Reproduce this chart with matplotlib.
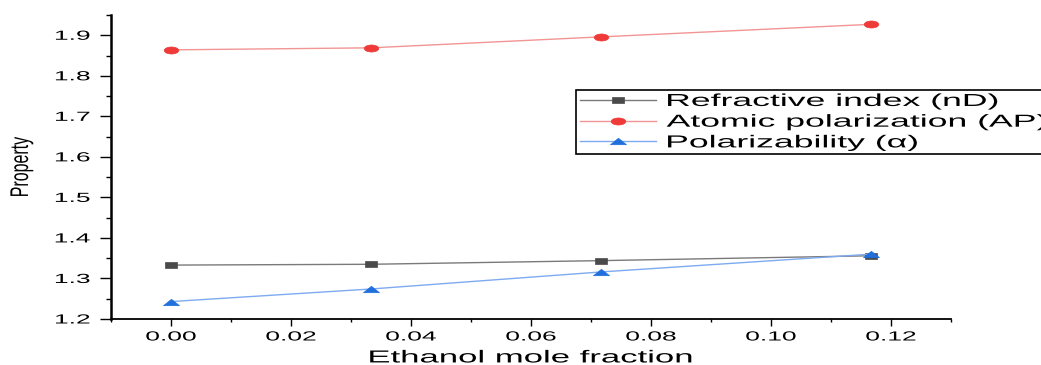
import numpy as np
import matplotlib
matplotlib.use("Agg")
import matplotlib.pyplot as plt
from matplotlib.path import Path
from matplotlib.markers import MarkerStyle
from matplotlib.patheffects import AbstractPathEffect
from matplotlib.transforms import Affine2D
from matplotlib.ticker import MultipleLocator

# ethanol mole fraction of each mixture
x_frac = [0.0, 0.0333, 0.0716, 0.1167]

refractive_index = [1.333, 1.335, 1.344, 1.356]
atomic_polarization = [1.864, 1.869, 1.896, 1.927]
polarizability = [1.243, 1.274, 1.316, 1.360]

series_names = ["Refractive index (nD)", "Atomic polarization (AP)", "Polarizability (\u03b1)"]

x_ticks = [0.00, 0.02, 0.04, 0.06, 0.08, 0.10, 0.12]
y_ticks = [1.2, 1.3, 1.4, 1.5, 1.6, 1.7, 1.8, 1.9]


class Widen(AbstractPathEffect):
    """Draw text glyphs stretched horizontally about one edge or the centre."""

    def __init__(self, sx=2.0, anchor="center"):
        super().__init__()
        self.sx = sx
        self.anchor = anchor

    def draw_path(self, renderer, gc, tpath, affine, rgbFace=None):
        bb = tpath.get_extents(affine)
        if self.anchor == "left":
            x0 = bb.x0
        elif self.anchor == "right":
            x0 = bb.x1
        else:
            x0 = 0.5 * (bb.x0 + bb.x1)
        stretch = Affine2D().translate(-x0, 0).scale(self.sx, 1).translate(x0, 0)
        renderer.draw_path(gc, tpath, affine + stretch, rgbFace)


def wide_marker(verts):
    verts = np.asarray(verts, dtype=float)
    codes = [Path.MOVETO] + [Path.LINETO] * (len(verts) - 1) + [Path.CLOSEPOLY]
    verts = np.vstack([verts, verts[:1]])
    return MarkerStyle(Path(verts, codes))


circ = Path.unit_circle()
ellipse = MarkerStyle(Path(circ.vertices * [1.0, 0.48], circ.codes))
rect = wide_marker([(-1, -0.5), (1, -0.5), (1, 0.5), (-1, 0.5)])
tri = wide_marker([(-1, -0.4), (1, -0.4), (0, 0.4)])

plt.rcParams["font.family"] = ["Liberation Sans", "DejaVu Sans"]

fig = plt.figure(figsize=(10.41, 3.65), dpi=100)
ax = fig.add_axes([111 / 1041, 1 - 319 / 365, 840 / 1041, 304 / 365])

ax.plot(x_frac, refractive_index, color="#7a7a7a", lw=1.0,
        marker=rect, ms=9.0, mfc="#4a4a4a", mec="#4a4a4a", mew=0.5,
        label=series_names[0])
ax.plot(x_frac, atomic_polarization, color="#f29595", lw=1.0,
        marker=ellipse, ms=10.5, mfc="#ef3a3a", mec="#ef3a3a", mew=0.5,
        label=series_names[1])
ax.plot(x_frac, polarizability, color="#7eaaf0", lw=1.0,
        marker=tri, ms=11.5, mfc="#1f6fdc", mec="#1f6fdc", mew=0.5,
        label=series_names[2])

ax.set_xlim(-0.01, 0.13)
ax.set_ylim(1.2, 1.95)
ax.set_xticks(x_ticks)
ax.set_yticks(y_ticks)
ax.set_xticklabels([f"{v:.2f}" for v in x_ticks])
ax.set_yticklabels([f"{v:.1f}" for v in y_ticks])
ax.xaxis.set_minor_locator(MultipleLocator(0.01))
ax.yaxis.set_minor_locator(MultipleLocator(0.05))

for side in ("top", "right"):
    ax.spines[side].set_visible(False)
ax.spines["left"].set_linewidth(1.8)
ax.spines["bottom"].set_linewidth(1.3)

ax.tick_params(axis="y", which="major", direction="out", length=8, width=1.0,
               pad=7, labelsize=9.5)
ax.tick_params(axis="y", which="minor", direction="out", length=3.5, width=1.0)
ax.tick_params(axis="x", which="major", direction="out", length=5, width=1.0,
               pad=4, labelsize=9.5)
ax.tick_params(axis="x", which="minor", direction="out", length=2.5, width=1.0)

for lbl in ax.get_yticklabels():
    lbl.set_path_effects([Widen(2.0, "right")])
for lbl in ax.get_xticklabels():
    lbl.set_path_effects([Widen(2.0, "center")])

ax.set_xlabel("Ethanol mole fraction", fontsize=12.5, labelpad=5)
ax.xaxis.label.set_path_effects([Widen(2.0, "center")])
ax.set_ylabel("Property", fontsize=11.5)
ax.yaxis.set_label_coords(-0.098, 0.5)
ax.yaxis.label.set_path_effects([Widen(1.6, "center")])

leg = ax.legend(loc="upper left", bbox_to_anchor=(576 / 1041, 1 - 90 / 365, 0.5, 0.0),
                bbox_transform=fig.transFigure, mode="expand", fontsize=12.5,
                frameon=True, fancybox=False, framealpha=1.0, edgecolor="black",
                borderpad=0.22, labelspacing=0.32, handlelength=4.4,
                handletextpad=0.6, borderaxespad=0.0)
leg.get_frame().set_linewidth(1.2)
for t in leg.get_texts():
    t.set_path_effects([Widen(2.05, "left")])

fig.savefig("out.png", dpi=100)
